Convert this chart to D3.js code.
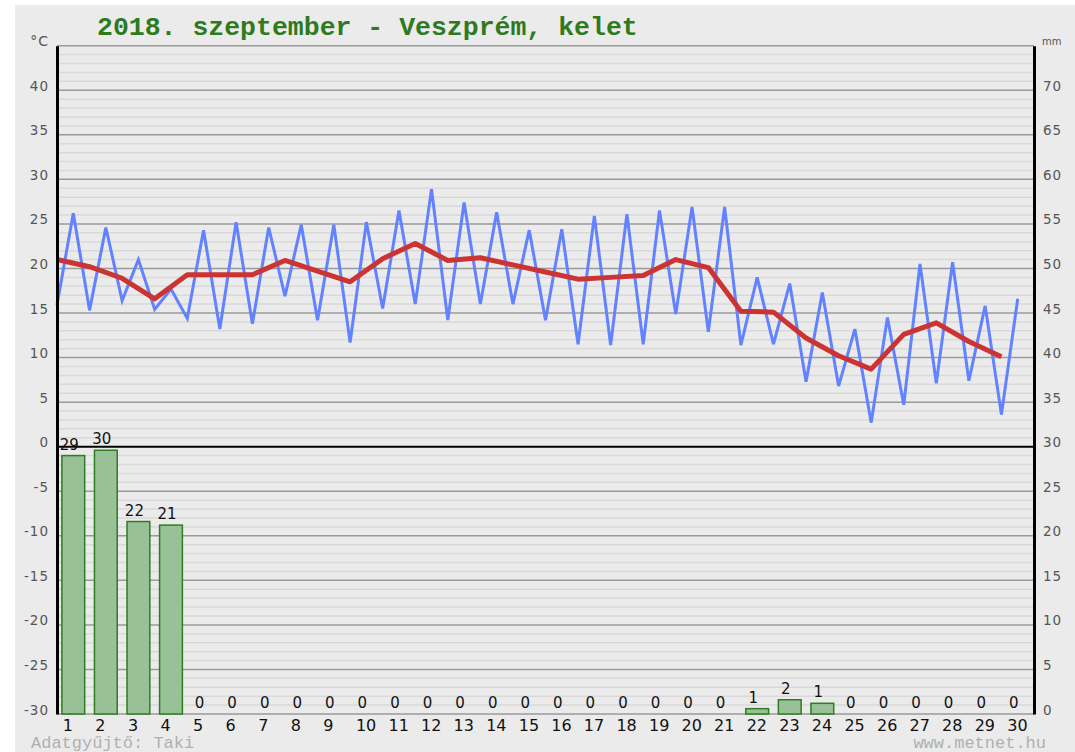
<!DOCTYPE html>
<html lang="hu">
  <head>
    <meta charset="utf-8">
    <title>2018. szeptember - Veszprém, kelet</title>
    <script type="text/javascript" src="https://cdn.jsdelivr.net/npm/d3@7"></script>
    <style type="text/css">
      body { margin: 0; background: #fff; }
      svg { display: block; }
      .tick text { font-family: "DejaVu Sans", sans-serif; }
    </style>
  </head>
  <body>
    <script type="text/javascript">

      //Size of the picture
      var w = 1075;
      var h = 752;

      //Days of the month
      var days = [1, 2, 3, 4, 5, 6, 7, 8, 9, 10, 11, 12, 13, 14, 15,
                  16, 17, 18, 19, 20, 21, 22, 23, 24, 25, 26, 27, 28, 29, 30];

      //Daily minimum, maximum and mean temperature (°C)
      var tMin = [15.9, 15.3, 16.4, 15.4, 14.4, 13.2, 13.8, 16.9, 14.2, 11.7,
                  15.5, 16.0, 14.2, 16.0, 16.0, 14.2, 11.5, 11.4, 11.5, 14.9,
                  12.9, 11.4, 11.5, 7.3, 6.8, 2.7, 4.7, 7.1, 7.4, 3.6];
      var tMax = [26.2, 24.6, 21.0, 17.7, 24.3, 25.2, 24.6, 24.9, 24.9, 25.2,
                  26.5, 28.9, 27.4, 26.3, 24.3, 24.4, 25.9, 26.1, 26.5, 26.9,
                  26.9, 19.0, 18.3, 17.3, 13.2, 14.5, 20.5, 20.7, 15.8, 16.6];
      var tAvg = [21.0, 20.2, 18.9, 16.6, 19.3, 19.3, 19.3, 20.9, 19.7, 18.5,
                  21.1, 22.8, 20.9, 21.2, 20.4, 19.6, 18.8, 19.0, 19.2, 21.0,
                  20.1, 15.2, 15.1, 12.2, 10.2, 8.7, 12.6, 13.9, 11.8, 10.1];

      //Daily precipitation (mm)
      var rain = [29.0, 29.6, 21.6, 21.2, 0, 0, 0, 0, 0, 0,
                  0, 0, 0, 0, 0, 0, 0, 0, 0, 0,
                  0, 0.6, 1.6, 1.2, 0, 0, 0, 0, 0, 0];

      //Tick labels
      var tempTicks = [-30, -25, -20, -15, -10, -5, 0, 5, 10, 15, 20, 25, 30, 35, 40];
      var rainTicks = [0, 5, 10, 15, 20, 25, 30, 35, 40, 45, 50, 55, 60, 65, 70];

      var title = "2018. szeptember - Veszprém, kelet";

      //Plot area
      var plotL = 57, plotR = 1034, plotT = 45.7, plotB = 714;

      var xBand = d3.scaleBand()
              .domain(days)
              .range([plotL, plotR])
              .paddingInner(0.3)
              .paddingOuter(0.15);

      //Continuous day scale for the lines (0 = start of day 1)
      var xDay = d3.scaleLinear()
              .domain([0, days.length])
              .range([plotL, plotR]);

      var yTemp = d3.scaleLinear()
              .domain([-30, 45])
              .range([plotB, plotT]);

      var yRain = d3.scaleLinear()
              .domain([0, 75])
              .range([plotB, plotT]);

      var svg = d3.select("body")
            .append("svg")
            .attr("width", w)
            .attr("height", h);

      //Gray background
      svg.append("rect")
         .attr("x", 15)
         .attr("y", 5)
         .attr("width", w - 15)
         .attr("height", h - 5)
         .attr("fill", "#ebebeb");

      //Title
      svg.append("text")
         .attr("x", 97)
         .attr("y", 35)
         .attr("font-family", "'Liberation Mono', 'Courier New', monospace")
         .attr("font-weight", "bold")
         .attr("font-size", "26.5px")
         .attr("fill", "#2f7a1f")
         .text(title);

      //Grid: thin lines each degree, darker each 5 degrees
      var minor = d3.range(-30, 46).filter(function(d) { return d % 5 != 0; });
      var major = d3.range(-30, 46, 5);

      svg.append("g")
         .selectAll("line")
         .data(minor)
         .enter()
         .append("line")
         .attr("x1", plotL)
         .attr("x2", plotR)
         .attr("y1", function(d) { return yTemp(d); })
         .attr("y2", function(d) { return yTemp(d); })
         .attr("stroke", "#d9d9d9")
         .attr("stroke-width", 1.5);

      svg.append("g")
         .selectAll("line")
         .data(major)
         .enter()
         .append("line")
         .attr("x1", plotL)
         .attr("x2", plotR)
         .attr("y1", function(d) { return yTemp(d); })
         .attr("y2", function(d) { return yTemp(d); })
         .attr("stroke", function(d) { return d == 0 ? "#000" : "#9a9a9a"; })
         .attr("stroke-width", function(d) { return d == 0 ? 2 : 1.5; });

      //Precipitation bars
      svg.append("g")
         .selectAll("rect")
         .data(rain)
         .enter()
         .append("rect")
         .attr("x", function(d, i) { return xBand(days[i]); })
         .attr("y", function(d) { return yRain(d); })
         .attr("width", xBand.bandwidth())
         .attr("height", function(d) { return yRain(0) - yRain(d); })
         .attr("fill", "#98c198")
         .attr("stroke", "#2e7d1e")
         .attr("stroke-width", 1.5);

      svg.append("g")
         .selectAll("text")
         .data(rain)
         .enter()
         .append("text")
         .attr("x", function(d, i) { return xBand(days[i]) + xBand.bandwidth() / 2 - 4; })
         .attr("y", function(d) { return yRain(d) - 6; })
         .attr("text-anchor", "middle")
         .attr("font-family", "'DejaVu Sans', sans-serif")
         .attr("font-size", "15px")
         .attr("fill", "#111")
         .text(function(d) { return Math.round(d); });

      //Min / max zigzag: minimum at start of day, maximum at middle of day
      var zig = [];
      days.forEach(function(d, i) {
        zig.push([i, tMin[i]]);
        zig.push([i + 0.5, tMax[i]]);
      });

      var line = d3.line()
            .x(function(d) { return xDay(d[0]); })
            .y(function(d) { return yTemp(d[1]); });

      svg.append("path")
         .datum(zig)
         .attr("d", line)
         .attr("fill", "none")
         .attr("stroke", "#6282ff")
         .attr("stroke-width", 3)
         .attr("stroke-linejoin", "miter");

      svg.append("path")
         .datum(tAvg.map(function(v, i) { return [i, v]; }))
         .attr("d", line)
         .attr("fill", "none")
         .attr("stroke", "#cc3333")
         .attr("stroke-width", 5)
         .attr("stroke-linejoin", "round");

      //Axes (plain hyphen for negatives, as on the original)
      var plain = function(d) { return String(d); };

      var axisL = svg.append("g")
         .attr("transform", "translate(" + plotL + ",0)")
         .call(d3.axisLeft(yTemp).tickValues(tempTicks).tickFormat(plain)
               .tickSize(0).tickSizeOuter(0).tickPadding(8));

      var axisR = svg.append("g")
         .attr("transform", "translate(" + plotR + ",0)")
         .call(d3.axisRight(yRain).tickValues(rainTicks).tickFormat(plain)
               .tickSize(0).tickSizeOuter(0).tickPadding(9));

      [axisL, axisR].forEach(function(a) {
        a.select(".domain").attr("stroke", "#000").attr("stroke-width", 3);
        a.selectAll(".tick text")
         .attr("dy", "0")
         .attr("font-size", "13.5px")
         .attr("letter-spacing", "1px")
         .attr("fill", "#555");
      });

      var axisB = svg.append("g")
         .attr("transform", "translate(0," + plotB + ")")
         .call(d3.axisBottom(xBand).tickSize(0));

      axisB.select(".domain").remove();
      axisB.selectAll(".tick text")
         .attr("y", 17)
         .attr("dy", "0")
         .attr("dx", -10.5)
         .attr("text-anchor", "start")
         .attr("font-size", "16px")
         .attr("fill", "#111");

      //Units
      svg.append("text")
         .attr("x", 49)
         .attr("y", 46)
         .attr("text-anchor", "end")
         .attr("font-family", "'DejaVu Sans', sans-serif")
         .attr("font-size", "14px")
         .attr("letter-spacing", "1px")
         .attr("fill", "#555")
         .text("°C");

      svg.append("text")
         .attr("x", 1042)
         .attr("y", 45)
         .attr("font-family", "'DejaVu Sans', sans-serif")
         .attr("font-size", "10px")
         .attr("fill", "#555")
         .text("mm");

      //Footer
      svg.append("text")
         .attr("x", 31)
         .attr("y", 748)
         .attr("font-family", "'Liberation Mono', 'Courier New', monospace")
         .attr("font-size", "17px")
         .attr("fill", "#b0b0b0")
         .text("Adatgyűjtő: Taki");

      svg.append("text")
         .attr("x", 1046)
         .attr("y", 748)
         .attr("text-anchor", "end")
         .attr("font-family", "'Liberation Mono', 'Courier New', monospace")
         .attr("font-size", "17px")
         .attr("fill", "#b0b0b0")
         .text("www.metnet.hu");

    </script>
  </body>
</html>
